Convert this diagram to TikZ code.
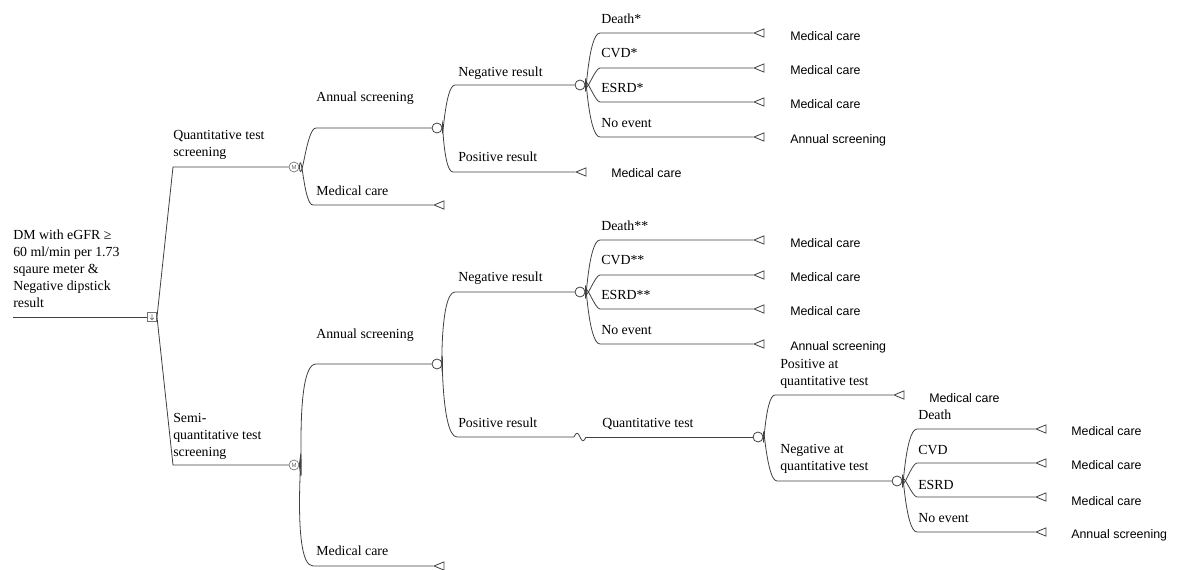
\documentclass[tikz,border=0pt]{standalone}
\usepackage{fontspec}
\setmainfont{Liberation Serif}
\newfontfamily\sansf{Liberation Sans}
\usetikzlibrary{shapes.geometric}
\begin{document}
\begin{tikzpicture}[x=0.75pt,y=-0.75pt,
  line/.style={draw=black!75,line width=0.6pt},
  bow/.style={in=180,out looseness=1.3,in looseness=0.6},
  lbl/.style={inner sep=0pt,anchor=base west,font=\fontsize{10.4}{12.7}\selectfont},
  mlbl/.style={inner sep=0pt,anchor=north west,align=left,font=\fontsize{10.4}{12.7}\selectfont},
  tlbl/.style={inner sep=0pt,anchor=base west,font=\sansf\fontsize{9.3}{11}\selectfont},
  chance/.style={circle,draw=black!75,line width=0.6pt,fill=white,minimum size=7.5pt,inner sep=0pt},
  mnode/.style={circle,draw=black!55,line width=0.5pt,fill=white,minimum size=7.5pt,inner sep=0pt,font=\sansf\fontsize{4.5}{4.5}\selectfont,text=black!60},
  decision/.style={rectangle,draw=black!55,line width=0.5pt,fill=white,minimum size=7pt,inner sep=0pt,text=black!60},
  term/.style={isosceles triangle,shape border rotate=180,isosceles triangle apex angle=45,draw=black!75,line width=0.6pt,minimum height=7.5pt,inner sep=0pt,anchor=apex},
]
\useasboundingbox (0,0) rectangle (1179,570);

% decision / chance nodes
\coordinate (root) at (13,317);
\node[decision] (dec) at (152,317) {};
\draw[black!60,line width=0.4pt] ([yshift=2pt]dec.center) -- ([yshift=-2pt]dec.center) ([xshift=-1.3pt,yshift=-0.7pt]dec.center) -- ([yshift=-2pt]dec.center) -- ([xshift=1.3pt,yshift=-0.7pt]dec.center);
\node[mnode] (m1) at (294,167) {M};
\node[mnode] (m2) at (294,465) {M};
\node[chance] (c1) at (437,128) {};
\node[chance] (c2) at (580,85) {};
\node[chance] (c3) at (437,364) {};
\node[chance] (c6) at (580,292) {};
\node[chance] (c4) at (758,437) {};
\node[chance] (c5) at (897,481) {};
\coordinate (w1) at (574,437);
\coordinate (w2) at (586,437);

% terminal nodes
\node[term] (ta1) at (433,205) {};
\node[term] (ta2) at (575,172) {};
\node[term] (ta3) at (753,33) {};
\node[term] (ta4) at (753,68) {};
\node[term] (ta5) at (753,102) {};
\node[term] (ta6) at (753,137) {};
\node[term] (tb1) at (433,566) {};
\node[term] (tb2) at (753,240) {};
\node[term] (tb3) at (753,275) {};
\node[term] (tb4) at (753,309) {};
\node[term] (tb5) at (753,344) {};
\node[term] (tc1) at (893,395) {};
\node[term] (tc2) at (1035,429) {};
\node[term] (tc3) at (1035,463) {};
\node[term] (tc4) at (1035,497) {};
\node[term] (tc5) at (1035,532) {};

% connectors
\draw[line] (root) -- (dec.west);
\draw[line] (dec.east) -- (173,167) -- (m1.west);
\draw[line] (dec.east) -- (173,465) -- (m2.west);

\draw[line] (m1.east) to[bow,out=277] (316,128) -- (c1.west);
\draw[line] (m1.east) to[bow,out=83] (313,205) -- (ta1.apex);
\draw[line] (c1.east) to[bow,out=270] (455,85) -- (c2.west);
\draw[line] (c1.east) to[bow,out=90] (453,172) -- (ta2.apex);
\draw[line] (c2.east) to[bow,out=270] (600,33) -- (ta3.apex);
\draw[line] (c2.east) to[bow,out=270] (600,68) -- (ta4.apex);
\draw[line] (c2.east) to[bow,out=90] (600,102) -- (ta5.apex);
\draw[line] (c2.east) to[bow,out=90] (600,137) -- (ta6.apex);

\draw[line] (m2.east) to[bow,out=277] (316,364) -- (c3.west);
\draw[line] (m2.east) to[bow,out=83] (313,566) -- (tb1.apex);
\draw[line] (c3.east) to[bow,out=270] (455,292) -- (c6.west);
\draw[line] (c3.east) to[bow,out=90] (457,437) -- (w1);
\draw[line] (w1) .. controls (576,432) and (578,432) .. (580,437) .. controls (582,442) and (584,442) .. (w2);
\draw[line] (w2) -- (c4.west);
\draw[line] (c6.east) to[bow,out=270] (600,240) -- (tb2.apex);
\draw[line] (c6.east) to[bow,out=270] (600,275) -- (tb3.apex);
\draw[line] (c6.east) to[bow,out=90] (600,309) -- (tb4.apex);
\draw[line] (c6.east) to[bow,out=90] (600,344) -- (tb5.apex);

\draw[line] (c4.east) to[bow,out=270] (775,395) -- (tc1.apex);
\draw[line] (c4.east) to[bow,out=90] (777,481) -- (c5.west);
\draw[line] (c5.east) to[bow,out=270] (917,429) -- (tc2.apex);
\draw[line] (c5.east) to[bow,out=270] (917,463) -- (tc3.apex);
\draw[line] (c5.east) to[bow,out=90] (917,497) -- (tc4.apex);
\draw[line] (c5.east) to[bow,out=90] (917,532) -- (tc5.apex);

% branch labels
\node[mlbl] (lroot) at (13,230) {DM with eGFR ≥\\60 ml/min per 1.73\\sqaure meter \&\\Negative dipstick\\result};
\node[mlbl] (lq) at (173,130) {Quantitative test\\screening};
\node[mlbl] (lsq) at (173,413) {Semi-\\quantitative test\\screening};

\node[lbl] (la1) at (316,101.5) {Annual screening};
\node[lbl] (la2) at (316,195.5) {Medical care};
\node[lbl] (la3) at (458,76.5) {Negative result};
\node[lbl] (la4) at (458,161.5) {Positive result};
\node[lbl] (la5) at (601,23.5) {Death*};
\node[lbl] (la6) at (601,57.5) {CVD*};
\node[lbl] (la7) at (601,92.5) {ESRD*};
\node[lbl] (la8) at (601,127.5) {No event};

\node[lbl] (lb1) at (316,338.5) {Annual screening};
\node[lbl] (lb2) at (316,555.5) {Medical care};
\node[lbl] (lb3) at (458,281.5) {Negative result};
\node[lbl] (lb4) at (458,427.5) {Positive result};
\node[lbl] (lb5) at (601,230.5) {Death**};
\node[lbl] (lb6) at (601,264.5) {CVD**};
\node[lbl] (lb7) at (601,299.5) {ESRD**};
\node[lbl] (lb8) at (601,334.5) {No event};
\node[lbl] (lb9) at (602,427.5) {Quantitative test};

\node[mlbl] (lc1) at (780,359) {Positive at\\quantitative test};
\node[mlbl] (lc2) at (780,444) {Negative at\\quantitative test};
\node[lbl] (lc3) at (918,419.5) {Death};
\node[lbl] (lc4) at (918,454.5) {CVD};
\node[lbl] (lc5) at (918,489.5) {ESRD};
\node[lbl] (lc6) at (918,522.5) {No event};

% terminal labels
\node[tlbl] (ua1) at (611,177.5) {Medical care};
\node[tlbl] (ua2) at (790,40.5) {Medical care};
\node[tlbl] (ua3) at (790,74.5) {Medical care};
\node[tlbl] (ua4) at (790,108.5) {Medical care};
\node[tlbl] (ua5) at (790,143.5) {Annual screening};
\node[tlbl] (ub2) at (790,247.5) {Medical care};
\node[tlbl] (ub3) at (790,281.5) {Medical care};
\node[tlbl] (ub4) at (790,315.5) {Medical care};
\node[tlbl] (ub5) at (790,350.5) {Annual screening};
\node[tlbl] (uc1) at (929,402.5) {Medical care};
\node[tlbl] (uc2) at (1071,435.5) {Medical care};
\node[tlbl] (uc3) at (1071,469.5) {Medical care};
\node[tlbl] (uc4) at (1071,505.5) {Medical care};
\node[tlbl] (uc5) at (1071,538.5) {Annual screening};
\end{tikzpicture}
\end{document}
